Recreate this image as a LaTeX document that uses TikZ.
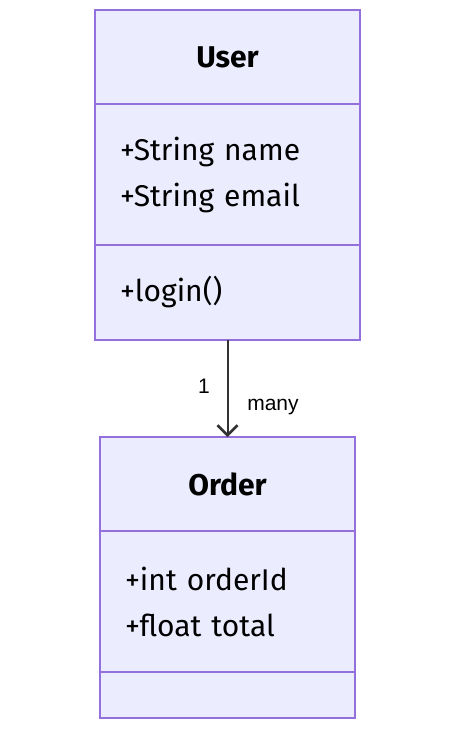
\documentclass[tikz,border=0pt]{standalone}
\usepackage{fontspec}
\setmainfont{Fira Sans}
\newfontfamily\labelfont{Liberation Sans}
\usepackage{tikz}
\usetikzlibrary{arrows.meta,positioning}
\definecolor{classfill}{RGB}{236, 236, 255}
\definecolor{classline}{RGB}{147, 112, 219}
\definecolor{edgegray}{RGB}{51, 51, 51}

\tikzset{
    compart/.style={draw=classline, fill=classfill, line width=1.5pt, inner sep=0pt, outer sep=0pt,
        anchor=north west, font=\fontsize{30}{46}\selectfont, text=black},
    members/.style={compart, align=left, inner xsep=25pt},
    edgelabel/.style={font=\labelfont\fontsize{21}{24}\selectfont, text=black}
}

\begin{document}
\begin{tikzpicture}[x=1pt, y=-1pt]
        \useasboundingbox (0,0) rectangle (470,730);
        % User class
        \node[compart, minimum width=265pt, minimum height=94pt] (user) at (95,10) {\bfseries User};
        \node[members, text width=215pt, minimum height=141pt] (userattr) at (user.south west) {+String name\\+String email};
        \node[members, text width=215pt, minimum height=95pt] (usermeth) at (userattr.south west) {+login()};
        % Order class
        \node[compart, minimum width=255pt, minimum height=94pt] (order) at (100,437) {\bfseries Order};
        \node[members, text width=205pt, minimum height=141pt] (orderattr) at (order.south west) {+int orderId\\+float total};
        \node[members, text width=205pt, minimum height=46pt] (ordermeth) at (orderattr.south west) {};
        % association
        \draw[edgegray, line width=2pt, -{Straight Barb[length=10pt, width=20pt, line width=2.5pt]}] (usermeth.south) -- (order.north);
        \node[edgelabel] (one) at (204,386) {1};
        \node[edgelabel] (many) at (273,407) {many};
    \end{tikzpicture}
\end{document}
